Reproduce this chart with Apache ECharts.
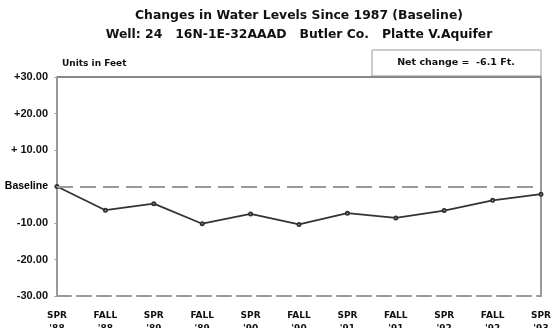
<!DOCTYPE html>
<html>
<head>
<meta charset="utf-8">
<script src="https://cdn.jsdelivr.net/npm/echarts@6/dist/echarts.min.js"></script>
<style>
html,body{margin:0;padding:0;background:#fff;}
#c{width:557px;height:328px;}
</style>
</head>
<body>
<div id="c"></div>
<script>
const categories = ["SPR\n'88","FALL\n'88","SPR\n'89","FALL\n'89","SPR\n'90","FALL\n'90","SPR\n'91","FALL\n'91","SPR\n'92","FALL\n'92","SPR\n'93"];
const levelChange = [0, -6.5, -4.7, -10.2, -7.5, -10.4, -7.3, -8.6, -6.6, -3.8, -2.1];
const yTickValues = [30, 20, 10, 0, -10, -20, -30];
const yTickLabels = ["+30.00", "+20.00", "+ 10.00", "Baseline", "-10.00", "-20.00", "-30.00"];
const titleLines = ["Changes in Water Levels Since 1987 (Baseline)", "Well: 24   16N-1E-32AAAD   Butler Co.   Platte V.Aquifer"];
const unitsText = "Units in Feet";
const netChangeText = "Net change =  -6.1 Ft.";

const FONT = "'DejaVu Sans', sans-serif";
const FONT2 = "'Liberation Sans', Arial, sans-serif";
const chart = echarts.init(document.getElementById('c'), null, {renderer: 'canvas'});
chart.setOption({
  animation: false,
  backgroundColor: '#fff',
  title: [
    {text: titleLines[0], left: 294, top: 5, textAlign: 'center',
     textStyle: {fontFamily: FONT, fontWeight: 'bold', fontSize: 12.4, color: '#111'}},
    {text: titleLines[1], left: 294, top: 24, textAlign: 'center',
     textStyle: {fontFamily: FONT, fontWeight: 'bold', fontSize: 12.4, color: '#111'}},
    {text: unitsText, left: 57, top: 54,
     textStyle: {fontFamily: FONT, fontWeight: 'bold', fontSize: 9, color: '#111'}}
  ],
  graphic: [
    {type: 'rect', shape: {x: 372, y: 50, width: 169, height: 26},
     style: {fill: '#fff', stroke: '#999', lineWidth: 1}},
    {type: 'text', style: {x: 456, y: 63, text: netChangeText, align: 'center', verticalAlign: 'middle',
     font: 'bold 9.5px ' + FONT, fill: '#111'}}
  ],
  grid: {left: 57, right: 16, top: 77, bottom: 32, containLabel: false, outerBoundsMode: 'none'},
  xAxis: {
    type: 'category', data: categories, boundaryGap: false,
    axisLine: {onZero: false, lineStyle: {color: '#999', width: 2, type: [14, 6]}},
    axisTick: {show: false},
    axisLabel: {interval: 0, margin: 13, fontFamily: FONT, fontWeight: 'bold', fontSize: 9, color: '#111', lineHeight: 13}
  },
  yAxis: [
    {type: 'value', min: -30, max: 30, interval: 10,
     axisLine: {show: true, lineStyle: {color: '#999', width: 2}},
     axisTick: {show: true, length: 3, inside: false, lineStyle: {color: '#aaa'}},
     splitLine: {show: false},
     axisLabel: {margin: 9, fontFamily: FONT2, fontWeight: 'bold', fontSize: 11, color: '#111',
       formatter: function(v){ const i = yTickValues.indexOf(v); const t = i >= 0 ? yTickLabels[i] : ''; return v === 0 ? '{b|' + t + '}' : t; },
       rich: {b: {fontFamily: FONT2, fontWeight: 'bold', fontSize: 10.5, color: '#000'}}}
    },
    {type: 'value', min: -30, max: 30, interval: 10, position: 'right',
     axisLine: {show: true, lineStyle: {color: '#999', width: 2}},
     axisTick: {show: false}, axisLabel: {show: false}, splitLine: {show: false}}
  ],
  series: [{
    type: 'line', data: levelChange, symbol: 'emptyCircle', symbolSize: 3,
    lineStyle: {color: '#333', width: 1.8},
    itemStyle: {color: '#333', borderWidth: 1},
    markLine: {
      silent: true, symbol: 'none', label: {show: false},
      data: [
        {yAxis: 0, lineStyle: {color: '#999', width: 2, type: [16, 7]}},
        {yAxis: 30, lineStyle: {color: '#888', width: 2, type: 'solid'}}
      ]
    }
  }]
});
</script>
</body>
</html>
